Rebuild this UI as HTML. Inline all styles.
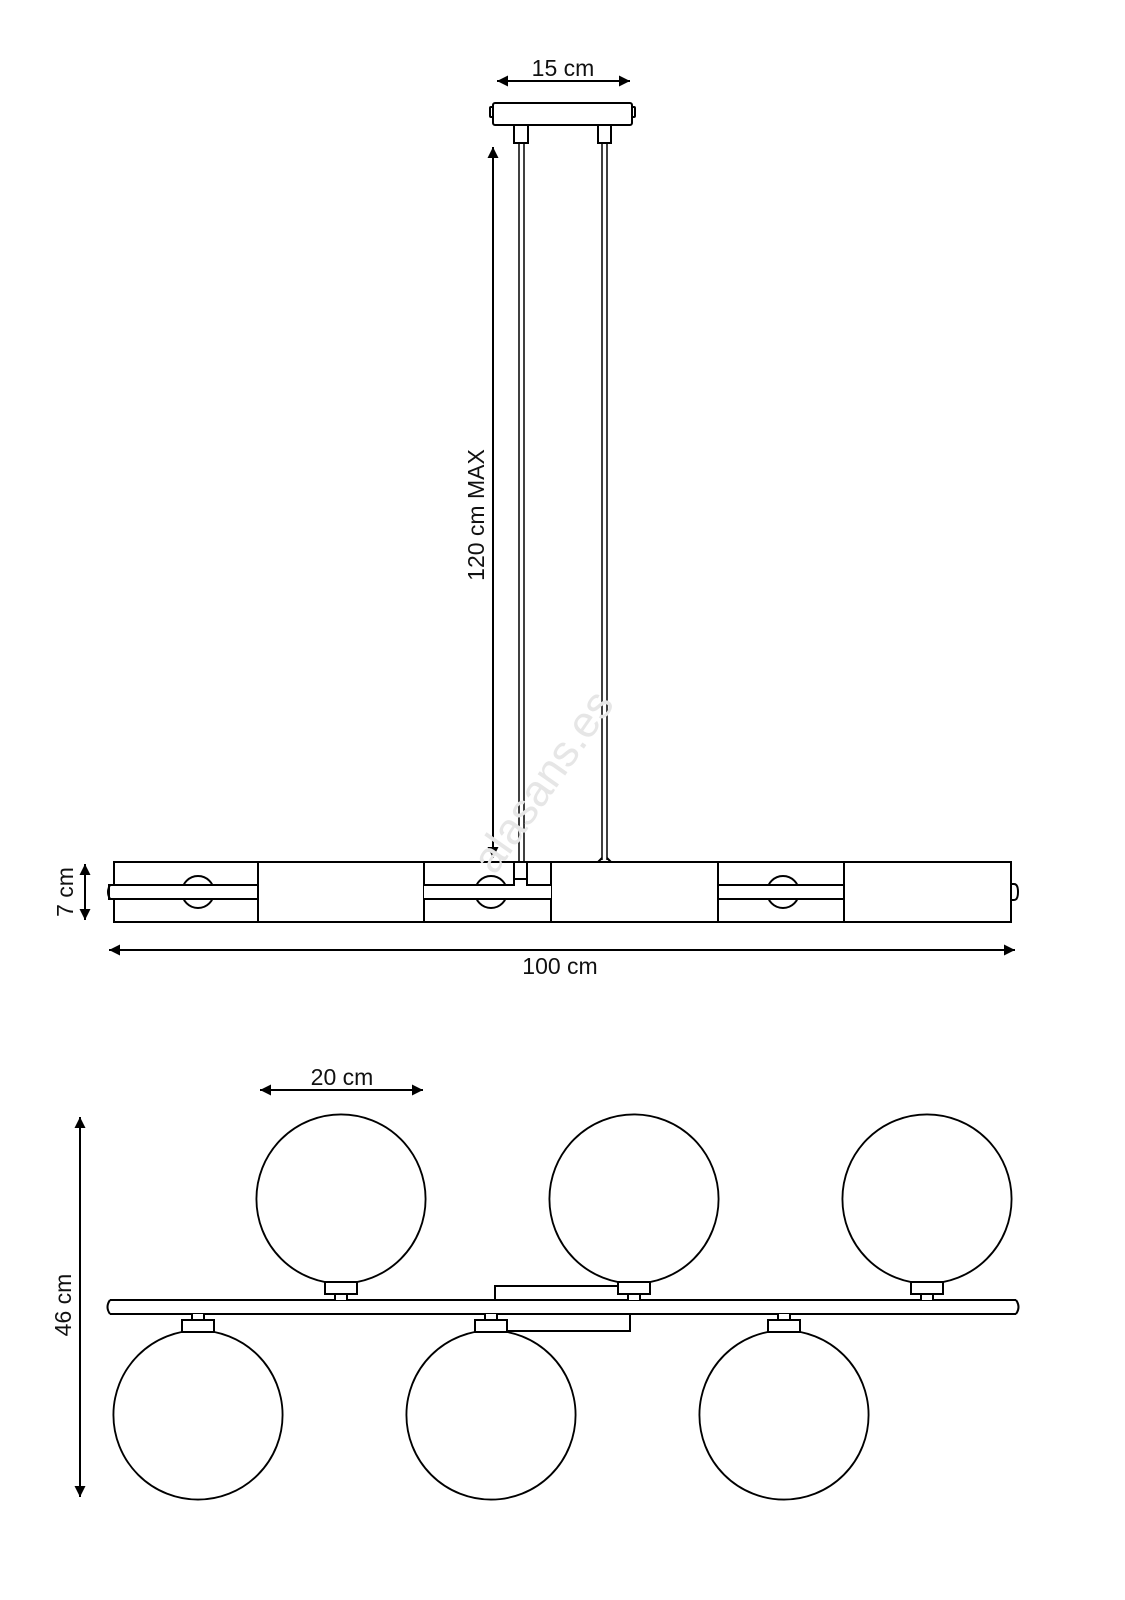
<!DOCTYPE html>
<html><head><meta charset="utf-8"><style>
html,body{margin:0;padding:0;background:#fff;}
svg{display:block;}
text{font-family:"Liberation Sans","DejaVu Sans",sans-serif;fill:#111;}
</style></head><body>
<svg width="1125" height="1600" viewBox="0 0 1125 1600" xmlns="http://www.w3.org/2000/svg">
<defs>
<marker id="a" viewBox="0 0 10 10" refX="10" refY="5" markerWidth="18" markerHeight="11" markerUnits="userSpaceOnUse" orient="auto-start-reverse"><path d="M0,0 L10,5 L0,10 z" fill="#000"/></marker>
</defs>
<g stroke="#000" stroke-width="2" fill="none">
<line x1="497" y1="81" x2="630" y2="81" marker-start="url(#a)" marker-end="url(#a)"/>
<rect x="493" y="103" width="139" height="22" rx="2" fill="#fff"/>
<rect x="490" y="107" width="3" height="10" rx="1"/>
<rect x="632" y="107" width="3" height="10" rx="1"/>
<rect x="514" y="125" width="14" height="18"/>
<rect x="598" y="125" width="13" height="18"/>
<line x1="519" y1="143" x2="519" y2="862" stroke-width="1.5"/>
<line x1="524" y1="143" x2="524" y2="862" stroke-width="1.5"/>
<line x1="602" y1="143" x2="602" y2="860" stroke-width="1.5"/>
<line x1="607" y1="143" x2="607" y2="860" stroke-width="1.5"/>
<line x1="493" y1="147" x2="493" y2="858" marker-start="url(#a)" marker-end="url(#a)"/>
<rect x="114" y="862" width="897" height="60"/>
<line x1="258" y1="862" x2="258" y2="922"/>
<line x1="424" y1="862" x2="424" y2="922"/>
<line x1="551" y1="862" x2="551" y2="922"/>
<line x1="718" y1="862" x2="718" y2="922"/>
<line x1="844" y1="862" x2="844" y2="922"/>
<circle cx="198" cy="892" r="16" fill="#fff"/>
<circle cx="491" cy="892" r="16" fill="#fff"/>
<circle cx="783" cy="892" r="16" fill="#fff"/>
<rect x="109" y="885" width="149" height="14" fill="#fff"/>
<path d="M110,885 Q106,892 110,899" />
<rect x="424" y="886" width="127" height="12" fill="#fff" stroke="none"/>
<path d="M424,885 H514 V862 M527,862 V885 H551 M424,899 H551 M514,879 H527"/>
<rect x="718" y="885" width="126" height="14" fill="#fff"/>
<path d="M1011,884 h3 q4,0 4,8 q0,8 -4,8 h-3"/>
<path d="M598,862 L602,858 M611,862 L607,858"/>
<line x1="85" y1="864" x2="85" y2="920" marker-start="url(#a)" marker-end="url(#a)"/>
<line x1="109" y1="950" x2="1015" y2="950" marker-start="url(#a)" marker-end="url(#a)"/>
<line x1="260" y1="1090" x2="423" y2="1090" marker-start="url(#a)" marker-end="url(#a)"/>
<line x1="80" y1="1117" x2="80" y2="1497" marker-start="url(#a)" marker-end="url(#a)"/>
<path d="M495,1300 V1286 H618"/>
<path d="M507,1331 H630 V1314"/>
<path d="M110,1300 H1016 M110,1314 H1016"/>
<path d="M110,1300 Q105,1307 110,1314"/>
<path d="M1016,1300 Q1021,1307 1016,1314"/>
</g>
<g stroke="#000" fill="#fff" stroke-width="2">
<circle cx="341" cy="1199" r="83" stroke-width="5"/><circle cx="341" cy="1199" r="83" stroke="#fff" stroke-width="1.3"/>
<circle cx="634" cy="1199" r="83" stroke-width="5"/><circle cx="634" cy="1199" r="83" stroke="#fff" stroke-width="1.3"/>
<circle cx="927" cy="1199" r="83" stroke-width="5"/><circle cx="927" cy="1199" r="83" stroke="#fff" stroke-width="1.3"/>
<circle cx="198" cy="1415" r="83" stroke-width="5"/><circle cx="198" cy="1415" r="83" stroke="#fff" stroke-width="1.3"/>
<circle cx="491" cy="1415" r="83" stroke-width="5"/><circle cx="491" cy="1415" r="83" stroke="#fff" stroke-width="1.3"/>
<circle cx="784" cy="1415" r="83" stroke-width="5"/><circle cx="784" cy="1415" r="83" stroke="#fff" stroke-width="1.3"/>
<rect x="325" y="1282" width="32" height="12"/><rect x="335" y="1294" width="12" height="7"/>
<rect x="618" y="1282" width="32" height="12"/><rect x="628" y="1294" width="12" height="7"/>
<rect x="911" y="1282" width="32" height="12"/><rect x="921" y="1294" width="12" height="7"/>
<rect x="192" y="1313" width="12" height="7"/><rect x="182" y="1320" width="32" height="12"/>
<rect x="485" y="1313" width="12" height="7"/><rect x="475" y="1320" width="32" height="12"/>
<rect x="778" y="1313" width="12" height="7"/><rect x="768" y="1320" width="32" height="12"/>
</g>
<rect x="111" y="1301" width="904" height="12" fill="#fff"/>
<g font-size="23">
<text x="563" y="76" text-anchor="middle">15 cm</text>
<text x="560" y="974" text-anchor="middle">100 cm</text>
<text x="342" y="1085" text-anchor="middle">20 cm</text>
<text transform="translate(484,515) rotate(-90)" text-anchor="middle">120 cm MAX</text>
<text transform="translate(73,892) rotate(-90)" text-anchor="middle">7 cm</text>
<text transform="translate(71,1305) rotate(-90)" text-anchor="middle">46 cm</text>
</g>
<text transform="translate(555,790) rotate(-55)" text-anchor="middle" font-size="44" style="fill:#e6e6e6">alasans.es</text>
</svg>
</body></html>
